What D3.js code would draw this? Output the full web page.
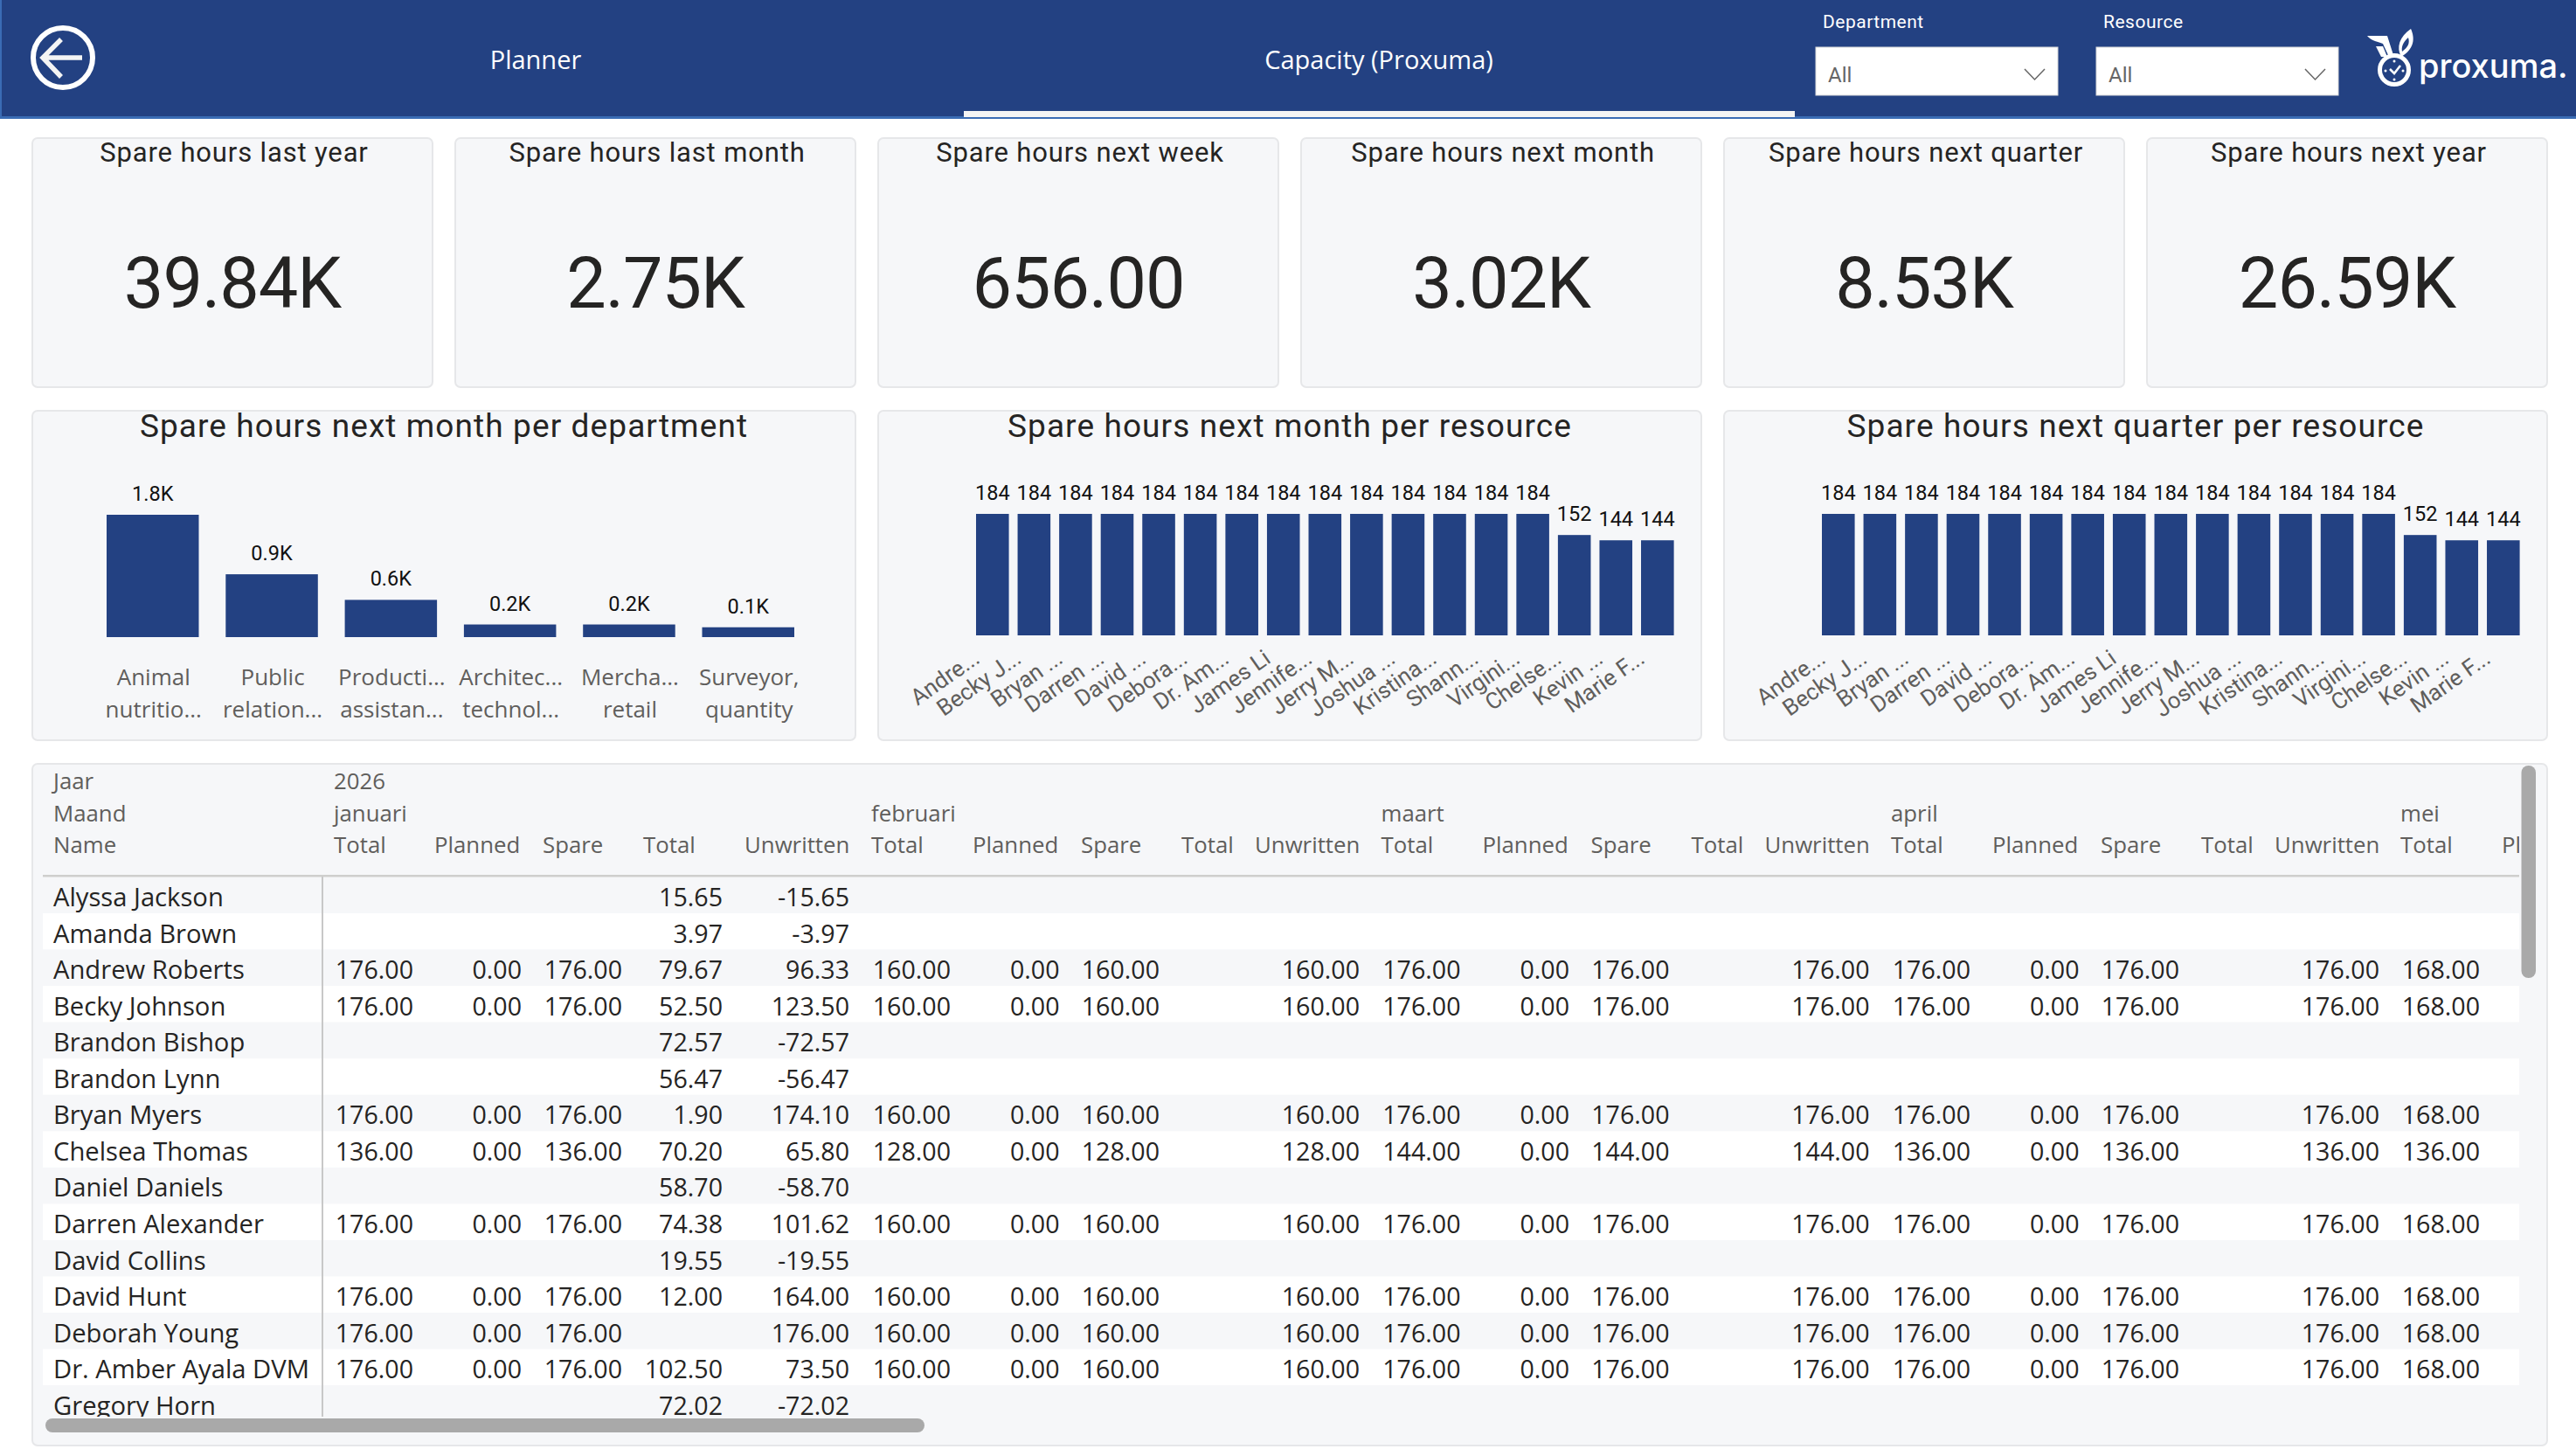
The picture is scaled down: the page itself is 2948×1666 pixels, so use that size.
<!DOCTYPE html>
<html lang="en">
<head>
<meta charset="utf-8">
<script src="https://d3js.org/d3.v7.min.js"></script>
<style>
  html, body { margin:0; padding:0; background:#fff; }
  svg { display:block; }
  .din { font-family:Roboto, sans-serif; }
  .seg { font-family:"Open Sans", sans-serif; }
</style>
</head>
<body>
<svg id="page" width="2948" height="1666"></svg>
<script>
// ---- values ----
var navLabels = ['Planner', 'Capacity (Proxuma)'];
var slicerLabels = ['Department', 'Resource'];
var kpiTitles = ['Spare hours last year', 'Spare hours last month', 'Spare hours next week', 'Spare hours next month', 'Spare hours next quarter', 'Spare hours next year'];
var kpiValues = ['39.84K', '2.75K', '656.00', '3.02K', '8.53K', '26.59K'];

var deptLabels = [['Animal', 'nutritio...'], ['Public', 'relation...'], ['Producti...', 'assistan...'], ['Architec...', 'technol...'], ['Mercha...', 'retail'], ['Surveyor,', 'quantity']];
var deptValues = [1840, 945, 560, 190, 190, 148];

var resourceLabels = ['Andre...', 'Becky J...', 'Bryan ...', 'Darren ...', 'David ...', 'Debora...', 'Dr. Am...', 'James Li', 'Jennife...', 'Jerry M...', 'Joshua ...', 'Kristina...', 'Shann...', 'Virgini...', 'Chelse...', 'Kevin ...', 'Marie F...'];
var monthValues = [184, 184, 184, 184, 184, 184, 184, 184, 184, 184, 184, 184, 184, 184, 152, 144, 144];
var quarterValues = [184, 184, 184, 184, 184, 184, 184, 184, 184, 184, 184, 184, 184, 184, 152, 144, 144];

var names = ['Alyssa Jackson', 'Amanda Brown', 'Andrew Roberts', 'Becky Johnson', 'Brandon Bishop', 'Brandon Lynn', 'Bryan Myers', 'Chelsea Thomas', 'Daniel Daniels', 'Darren Alexander', 'David Collins', 'David Hunt', 'Deborah Young', 'Dr. Amber Ayala DVM', 'Gregory Horn'];
var months = ['januari', 'februari', 'maart', 'april', 'mei'];
var measures = ['Total', 'Planned', 'Spare', 'Total', 'Unwritten'];

var _ = null;
var janTotal     = [_, _, 176, 176, _, _, 176, 136, _, 176, _, 176, 176, 176, _];
var janPlanned   = [_, _, 0, 0, _, _, 0, 0, _, 0, _, 0, 0, 0, _];
var janSpare     = [_, _, 176, 176, _, _, 176, 136, _, 176, _, 176, 176, 176, _];
var janWritten   = [15.65, 3.97, 79.67, 52.5, 72.57, 56.47, 1.9, 70.2, 58.7, 74.38, 19.55, 12, _, 102.5, 72.02];
var janUnwritten = [-15.65, -3.97, 96.33, 123.5, -72.57, -56.47, 174.1, 65.8, -58.7, 101.62, -19.55, 164, 176, 73.5, -72.02];
var febTotal     = [_, _, 160, 160, _, _, 160, 128, _, 160, _, 160, 160, 160, _];
var febPlanned   = [_, _, 0, 0, _, _, 0, 0, _, 0, _, 0, 0, 0, _];
var febSpare     = [_, _, 160, 160, _, _, 160, 128, _, 160, _, 160, 160, 160, _];
var febUnwritten = [_, _, 160, 160, _, _, 160, 128, _, 160, _, 160, 160, 160, _];
var marTotal     = [_, _, 176, 176, _, _, 176, 144, _, 176, _, 176, 176, 176, _];
var marPlanned   = [_, _, 0, 0, _, _, 0, 0, _, 0, _, 0, 0, 0, _];
var marSpare     = [_, _, 176, 176, _, _, 176, 144, _, 176, _, 176, 176, 176, _];
var marUnwritten = [_, _, 176, 176, _, _, 176, 144, _, 176, _, 176, 176, 176, _];
var aprTotal     = [_, _, 176, 176, _, _, 176, 136, _, 176, _, 176, 176, 176, _];
var aprPlanned   = [_, _, 0, 0, _, _, 0, 0, _, 0, _, 0, 0, 0, _];
var aprSpare     = [_, _, 176, 176, _, _, 176, 136, _, 176, _, 176, 176, 176, _];
var aprUnwritten = [_, _, 176, 176, _, _, 176, 136, _, 176, _, 176, 176, 176, _];
var meiTotal     = [_, _, 168, 168, _, _, 168, 136, _, 168, _, 168, 168, 168, _];

var blue = '#234182';
var panelFill = '#f6f7f9';
var panelEdge = '#e6e7e9';
var grey = '#605e5c';
var ink = '#252423';

var svg = d3.select('#page');
svg.append('rect').attr('width', 2948).attr('height', 1666).attr('fill', '#fff');

// ---- header ----
var header = svg.append('g');
header.append('rect').attr('width', 2948).attr('height', 135).attr('fill', blue);
header.append('rect').attr('y', 133).attr('width', 2948).attr('height', 3).attr('fill', '#3a6cb4');
header.append('rect').attr('width', 2).attr('height', 135).attr('fill', '#3a6cb4');

header.append('circle').attr('cx', 72).attr('cy', 66).attr('r', 34)
  .attr('fill', 'none').attr('stroke', '#fff').attr('stroke-width', 6);
header.append('path').attr('d', 'M94,66H49M70,45L49,66L70,88')
  .attr('fill', 'none').attr('stroke', '#f4f4f4').attr('stroke-width', 5.5);

header.selectAll('text.nav').data(navLabels).enter().append('text')
  .attr('class', 'nav seg')
  .attr('x', function(d, i) { return [613, 1578][i]; })
  .attr('y', 79)
  .attr('text-anchor', 'middle')
  .attr('fill', '#fff')
  .attr('font-size', 29)
  .text(function(d) { return d; });
header.append('rect').attr('x', 1103).attr('y', 127).attr('width', 951).attr('height', 7).attr('fill', '#f4f4f4');

var slicers = header.selectAll('g.slicer').data(slicerLabels).enter().append('g')
  .attr('class', 'slicer')
  .attr('transform', function(d, i) { return 'translate(' + [2078, 2399][i] + ',0)'; });
slicers.append('text').attr('class', 'din').attr('x', 8).attr('y', 32)
  .attr('fill', '#fff').attr('font-size', 21).attr('letter-spacing', 0.5).text(function(d) { return d; });
slicers.append('rect').attr('y', 54).attr('width', 277).attr('height', 55)
  .attr('fill', '#fff').attr('stroke', '#d9d9d9').attr('stroke-width', 1);
slicers.append('text').attr('class', 'din').attr('x', 14).attr('y', 94)
  .attr('fill', '#666').attr('font-size', 24).text('All');
slicers.append('path').attr('d', 'M239,79L250.500,91L262,79')
  .attr('fill', 'none').attr('stroke', '#666').attr('stroke-width', 1.5);

// logo
var logo = header.append('g').attr('fill', '#fff');
logo.append('path').attr('d', 'M2759,33C2764,44 2763,56 2748,65C2742,54 2746,42 2759,33ZM2756,43C2750,48 2748,54 2749,59C2756,54 2758,49 2756,43Z').attr('fill-rule', 'evenodd');
logo.append('path').attr('d', 'M2709,41H2732L2739,63H2733L2727,50C2722,48 2714,47 2709,41Z');
logo.append('path').attr('d', 'M2719,53H2727L2732,65H2725Z');
logo.append('circle').attr('cx', 2740).attr('cy', 80).attr('r', 16.5).attr('fill', 'none').attr('stroke', '#fff').attr('stroke-width', 5);
logo.append('path').attr('d', 'M2735,79L2740,84L2747,75').attr('fill', 'none').attr('stroke', '#fff').attr('stroke-width', 2.500);
logo.selectAll('circle.tick').data([[2740, 70], [2740, 91], [2730, 81], [2750, 81]]).enter().append('circle')
  .attr('class', 'tick').attr('r', 1.5)
  .attr('cx', function(d) { return d[0]; }).attr('cy', function(d) { return d[1]; });
logo.append('text').attr('x', 2768).attr('y', 89)
  .attr('font-family', 'Inter, sans-serif').attr('font-weight', 500).attr('font-size', 38)
  .text('proxuma.');

function panel(x, y, w, h) {
  svg.append('rect').attr('x', x + 1).attr('y', y + 1).attr('width', w - 2).attr('height', h - 2)
    .attr('rx', 6).attr('fill', panelFill).attr('stroke', panelEdge).attr('stroke-width', 2);
}

// ---- KPI cards ----
var cardX = d3.scaleBand().domain(d3.range(kpiTitles.length)).range([36, 2916]).paddingInner(24 / 484);
kpiTitles.forEach(function(t, i) {
  var x = cardX(i), w = cardX.bandwidth();
  panel(x, 157, w, 287);
  svg.append('text').attr('class', 'din').attr('x', x + w / 2 + 2).attr('y', 185)
    .attr('text-anchor', 'middle').attr('fill', ink).attr('font-size', 31).attr('letter-spacing', 0.85).text(t);
  svg.append('text').attr('class', 'din').attr('x', x + w / 2).attr('y', 352)
    .attr('text-anchor', 'middle').attr('fill', ink).attr('font-size', 81).attr('letter-spacing', -1).text(kpiValues[i]);
});

// ---- bar charts ----
function barChart(opt) {
  panel(opt.panelX, 469, 944, 379);
  svg.append('text').attr('class', 'din').attr('x', opt.panelX + 472).attr('y', 500)
    .attr('text-anchor', 'middle').attr('fill', ink).attr('font-size', 37).attr('letter-spacing', 1.1).text(opt.title);

  var x = d3.scaleBand().domain(d3.range(opt.values.length)).range(opt.xRange).paddingInner(opt.pad);
  var y = d3.scaleLinear().domain([0, d3.max(opt.values)]).range(opt.yRange);
  var g = svg.append('g');

  g.selectAll('rect.bar').data(opt.values).enter().append('rect')
    .attr('class', 'bar')
    .attr('x', function(d, i) { return x(i); })
    .attr('y', function(d) { return y(d); })
    .attr('width', x.bandwidth())
    .attr('height', function(d) { return y(0) - y(d); })
    .attr('fill', blue);

  g.selectAll('text.val').data(opt.values).enter().append('text')
    .attr('class', 'val din')
    .attr('x', function(d, i) { return x(i) + x.bandwidth() / 2; })
    .attr('y', function(d) { return y(d) - 16; })
    .attr('text-anchor', 'middle')
    .attr('fill', '#111')
    .attr('font-size', 23.5)
    .text(opt.format);

  var axis = g.append('g').attr('transform', 'translate(0,' + y(0) + ')')
    .call(d3.axisBottom(x).tickSize(0).tickFormat(function() { return ''; }));
  axis.select('.domain').remove();
  opt.labels(axis.selectAll('.tick text'));
}

barChart({
  panelX: 36,
  title: 'Spare hours next month per department',
  values: deptValues,
  xRange: [122, 909],
  yRange: [729, 589],
  pad: 0.226,
  format: function(d) { return (d / 1000).toFixed(1) + 'K'; },
  labels: function(sel) {
    sel.attr('class', 'seg').attr('fill', grey).attr('font-size', 26).attr('y', 0).attr('dy', null)
      .attr('font-family', '"Open Sans", sans-serif');
    sel.each(function(d) {
      d3.select(this).selectAll('tspan').data(deptLabels[d]).enter().append('tspan')
        .attr('x', 1)
        .attr('y', function(l, j) { return 55 + j * 37; })
        .text(function(l) { return l; });
    });
  }
});

[[1004, 'Spare hours next month per resource', monthValues, 0], [1972, 'Spare hours next quarter per resource', quarterValues, 968]].forEach(function(c) {
  barChart({
    panelX: c[0],
    title: c[1],
    values: c[2],
    xRange: [1117 + c[3], 1915.6 + c[3]],
    yRange: [727, 588],
    pad: 0.21,
    format: function(d) { return d; },
    labels: function(sel) {
      sel.attr('class', 'din').attr('fill', grey).attr('font-size', 26)
        .attr('font-family', 'Roboto, sans-serif')
        .attr('text-anchor', 'end')
        .attr('dy', null).attr('y', 0)
        .attr('transform', 'translate(-13,30) rotate(-35)')
        .text(function(d) { return resourceLabels[d]; });
    }
  });
});

// ---- matrix ----
panel(36, 873, 2880, 782);

var rowTop = 1003.500, rowH = 41.55;
var matrix = svg.append('g');
var clip = svg.append('clipPath').attr('id', 'tableClip');
clip.append('rect').attr('x', 49).attr('y', 880).attr('width', 2834).attr('height', 741);
var body = matrix.append('g').attr('clip-path', 'url(#tableClip)');

var rowY = d3.scaleLinear().domain([0, 1]).range([rowTop, rowTop + rowH]);
body.selectAll('rect.row').data(names).enter().append('rect')
  .attr('class', 'row')
  .attr('x', 49).attr('width', 2834)
  .attr('y', function(d, i) { return rowY(i); })
  .attr('height', rowH)
  .attr('fill', function(d, i) { return i % 2 ? '#fff' : panelFill; });

body.append('rect').attr('x', 49).attr('y', 1001).attr('width', 2834).attr('height', 2.5).attr('fill', '#cfcfcd');
body.append('rect').attr('x', 368).attr('y', 1003).attr('width', 2).attr('height', 618).attr('fill', '#c8c8c8');

// header rows
var headerFont = 25.8, nameFont = 29.2, cellFont = 28.6;
function headText(x, y, t) {
  body.append('text').attr('class', 'seg').attr('x', x).attr('y', y)
    .attr('fill', grey).attr('font-size', headerFont).text(t);
}
headText(61, 903, 'Jaar');
headText(61, 940, 'Maand');
headText(61, 976, 'Name');
headText(382, 903, '2026');

var monthX = d3.scaleOrdinal().domain(months).range([382, 997, 1580.5, 2164, 2747]);
var janHeadOffsets = [0, 115, 239, 354, 470];
var headOffsets = [0, 116, 240, 355, 439];
var janCellOffsets = [91, 215, 330, 445, 590];
var cellOffsets = [91, 215.500, 330, 445, 559];

months.forEach(function(m, i) {
  headText(monthX(m), 940, m);
  var offs = i === 0 ? janHeadOffsets : headOffsets;
  measures.forEach(function(h, j) {
    if (i === 4 && j > 1) return;
    headText(monthX(m) + offs[j], 976, h);
  });
});

// row labels and cells
body.selectAll('text.name').data(names).enter().append('text')
  .attr('class', 'name seg')
  .attr('x', 61)
  .attr('y', function(d, i) { return rowY(i) + 33.500; })
  .attr('fill', ink)
  .attr('font-size', nameFont)
  .text(function(d) { return d; });

function column(values, x) {
  values.forEach(function(d, i) {
    if (d === null) return;
    body.append('text')
      .attr('class', 'seg')
      .attr('x', x)
      .attr('y', rowY(i) + 33.500)
      .attr('text-anchor', 'end')
      .attr('fill', ink)
      .attr('font-size', cellFont)
      .text(d.toFixed(2));
  });
}

[
  ['januari', [janTotal, janPlanned, janSpare, janWritten, janUnwritten], janCellOffsets],
  ['februari', [febTotal, febPlanned, febSpare, null, febUnwritten], cellOffsets],
  ['maart', [marTotal, marPlanned, marSpare, null, marUnwritten], cellOffsets],
  ['april', [aprTotal, aprPlanned, aprSpare, null, aprUnwritten], cellOffsets],
  ['mei', [meiTotal], cellOffsets]
].forEach(function(g) {
  g[1].forEach(function(values, j) {
    if (values) column(values, monthX(g[0]) + g[2][j]);
  });
});

// scrollbars
matrix.append('rect').attr('x', 52).attr('y', 1623).attr('width', 1006).attr('height', 16).attr('rx', 8).attr('fill', '#a9a9a9');
matrix.append('rect').attr('x', 2885.500).attr('y', 876).attr('width', 16.500).attr('height', 243).attr('rx', 8).attr('fill', '#a9a9a9');
</script>
</body>
</html>
